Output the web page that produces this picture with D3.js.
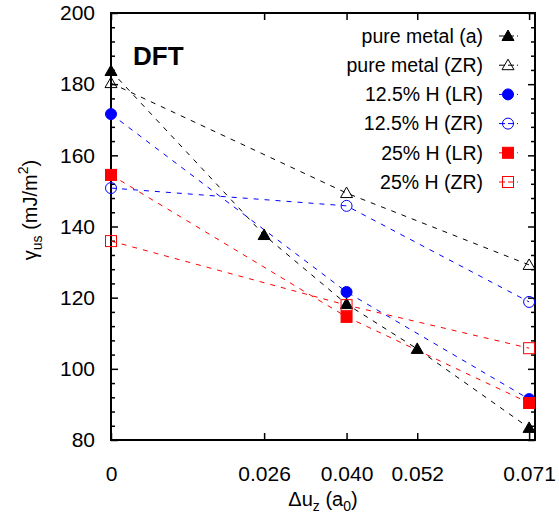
<!DOCTYPE html>
<html>
<head>
<meta charset="utf-8">
<script src="https://cdn.jsdelivr.net/npm/d3@7"></script>
<style>
  body { margin: 0; background: #fff; }
  svg { font-family: "Liberation Sans", Arial, sans-serif; }
</style>
</head>
<body>
<svg width="559" height="517"></svg>
<script>
// data
const xTicks = [0, 0.026, 0.040, 0.052, 0.071];
const xPureA = [0, 0.026, 0.040, 0.052, 0.071];
const xOther = [0, 0.040, 0.071];
const yPureA = [183.7, 137.6, 118.2, 105.6, 83.4];
const yPureZR = [180.3, 149.4, 129.2];
const yH125LR = [171.6, 121.6, 91.5];
const yH125ZR = [150.8, 145.8, 118.8];
const yH25LR = [154.5, 114.6, 90.4];
const yH25ZR = [135.9, 117.9, 105.8];
const yMajor = [80, 100, 120, 140, 160, 180, 200];

const series = [
  {name: "pure metal (a)", xs: xPureA, ys: yPureA, color: "#000", shape: "tri", fill: true},
  {name: "pure metal (ZR)", xs: xOther, ys: yPureZR, color: "#000", shape: "tri", fill: false},
  {name: "12.5% H (LR)", xs: xOther, ys: yH125LR, color: "#0000ff", shape: "circ", fill: true},
  {name: "12.5% H (ZR)", xs: xOther, ys: yH125ZR, color: "#0000ff", shape: "circ", fill: false},
  {name: "25% H (LR)", xs: xOther, ys: yH25LR, color: "#ff0000", shape: "sq", fill: true},
  {name: "25% H (ZR)", xs: xOther, ys: yH25ZR, color: "#ff0000", shape: "sq", fill: false}
];

const pLeft = 111, pRight = 535, pTop = 13, pBottom = 440;
const svg = d3.select("svg");

const x = d3.scaleLinear().domain([0, 0.072]).range([pLeft, pRight]);
const y = d3.scaleLinear().domain([80, 200]).range([pBottom, pTop]);

const fmtX = d => d === 0 ? "0" : d3.format(".3f")(d);

// axes, ticks inward
const yMinor = d3.range(80, 201, 4).filter(v => v % 20 !== 0);
function yAxisG(axisFn, pos, labels) {
  const gMaj = svg.append("g").attr("transform", `translate(${pos},0)`)
    .call(axisFn(y).tickValues(yMajor).tickSize(-7).tickFormat(labels ? d3.format("d") : ""));
  const gMin = svg.append("g").attr("transform", `translate(${pos},0)`)
    .call(axisFn(y).tickValues(yMinor).tickSize(-4).tickFormat(""));
  [gMaj, gMin].forEach(g => {
    g.select(".domain").remove();
    g.selectAll("line").attr("stroke-width", 1.5);
  });
  return gMaj;
}
const gyl = yAxisG(d3.axisLeft, pLeft, true);
gyl.selectAll("text").attr("x", -16).attr("font-size", 21).attr("fill", "#000");
yAxisG(d3.axisRight, pRight, false);

const gxb = svg.append("g").attr("transform", `translate(0,${pBottom})`)
  .call(d3.axisBottom(x).tickValues(xTicks).tickSize(-7).tickFormat(fmtX));
gxb.select(".domain").remove();
gxb.selectAll("line").attr("stroke-width", 1.5);
gxb.selectAll("text").attr("y", 26).attr("font-size", 21).attr("fill", "#000");

const gxt = svg.append("g").attr("transform", `translate(0,${pTop})`)
  .call(d3.axisTop(x).tickValues(xTicks).tickSize(-7).tickFormat(""));
gxt.select(".domain").remove();
gxt.selectAll("line").attr("stroke-width", 1.5);

// frame
svg.append("rect")
  .attr("x", pLeft).attr("y", pTop)
  .attr("width", pRight - pLeft).attr("height", pBottom - pTop)
  .attr("fill", "none").attr("stroke", "#000").attr("stroke-width", 2);

// lines
const line = d3.line().x(d => x(d[0])).y(d => y(d[1]));
series.forEach(s => {
  const pts = s.xs.map((v, i) => [v, s.ys[i]]);
  svg.append("path")
    .attr("d", line(pts))
    .attr("fill", "none")
    .attr("stroke", s.color)
    .attr("stroke-width", 1)
    .attr("stroke-dasharray", "5,6");
});

function marker(g, s, cx, cy) {
  const fill = s.fill ? s.color : "none";
  if (s.shape === "tri") {
    g.append("path")
      .attr("d", `M${cx},${cy - 6}L${cx + 6},${cy + 4.5}L${cx - 6},${cy + 4.5}Z`)
      .attr("fill", fill).attr("stroke", s.color).attr("stroke-width", 1);
  } else if (s.shape === "circ") {
    g.append("circle").attr("cx", cx).attr("cy", cy).attr("r", 5.5)
      .attr("fill", fill).attr("stroke", s.color).attr("stroke-width", 1);
  } else {
    g.append("rect").attr("x", cx - 5.5).attr("y", cy - 5.5)
      .attr("width", 11).attr("height", 11)
      .attr("fill", fill).attr("stroke", s.color).attr("stroke-width", 1);
  }
}

const gm = svg.append("g");
series.forEach(s => {
  s.xs.forEach((v, i) => marker(gm, s, x(v), y(s.ys[i])));
});

// legend
const lg = svg.append("g");
series.forEach((s, i) => {
  const ly = 36 + i * 29.2;
  lg.append("text").attr("x", 483).attr("y", ly).attr("dy", "0.35em")
    .attr("text-anchor", "end").attr("font-size", 19.5).text(s.name);
  lg.append("line").attr("x1", 499).attr("x2", 518).attr("y1", ly).attr("y2", ly)
    .attr("stroke", s.color).attr("stroke-width", 1).attr("stroke-dasharray", "6,3");
  marker(lg, s, 508, ly);
});

// DFT label
svg.append("text").attr("x", 133).attr("y", 65)
  .attr("font-size", 26).attr("font-weight", "bold").text("DFT");

// axis titles
const yl = svg.append("text")
  .attr("transform", "translate(37,210) rotate(-90)")
  .attr("text-anchor", "middle").attr("font-size", 20);
yl.append("tspan").text("γ");
yl.append("tspan").attr("font-size", 14).attr("dy", 5).text("us");
yl.append("tspan").attr("dy", -5).text(" (mJ/m");
yl.append("tspan").attr("font-size", 14).attr("dy", -9).text("2");
yl.append("tspan").attr("dy", 9).text(")");

const xl = svg.append("text")
  .attr("x", 323).attr("y", 506)
  .attr("text-anchor", "middle").attr("font-size", 20);
xl.append("tspan").text("Δu");
xl.append("tspan").attr("font-size", 14).attr("dy", 5).text("z");
xl.append("tspan").attr("dy", -5).text(" (a");
xl.append("tspan").attr("font-size", 14).attr("dy", 5).text("0");
xl.append("tspan").attr("dy", -5).text(")");
</script>
</body>
</html>
